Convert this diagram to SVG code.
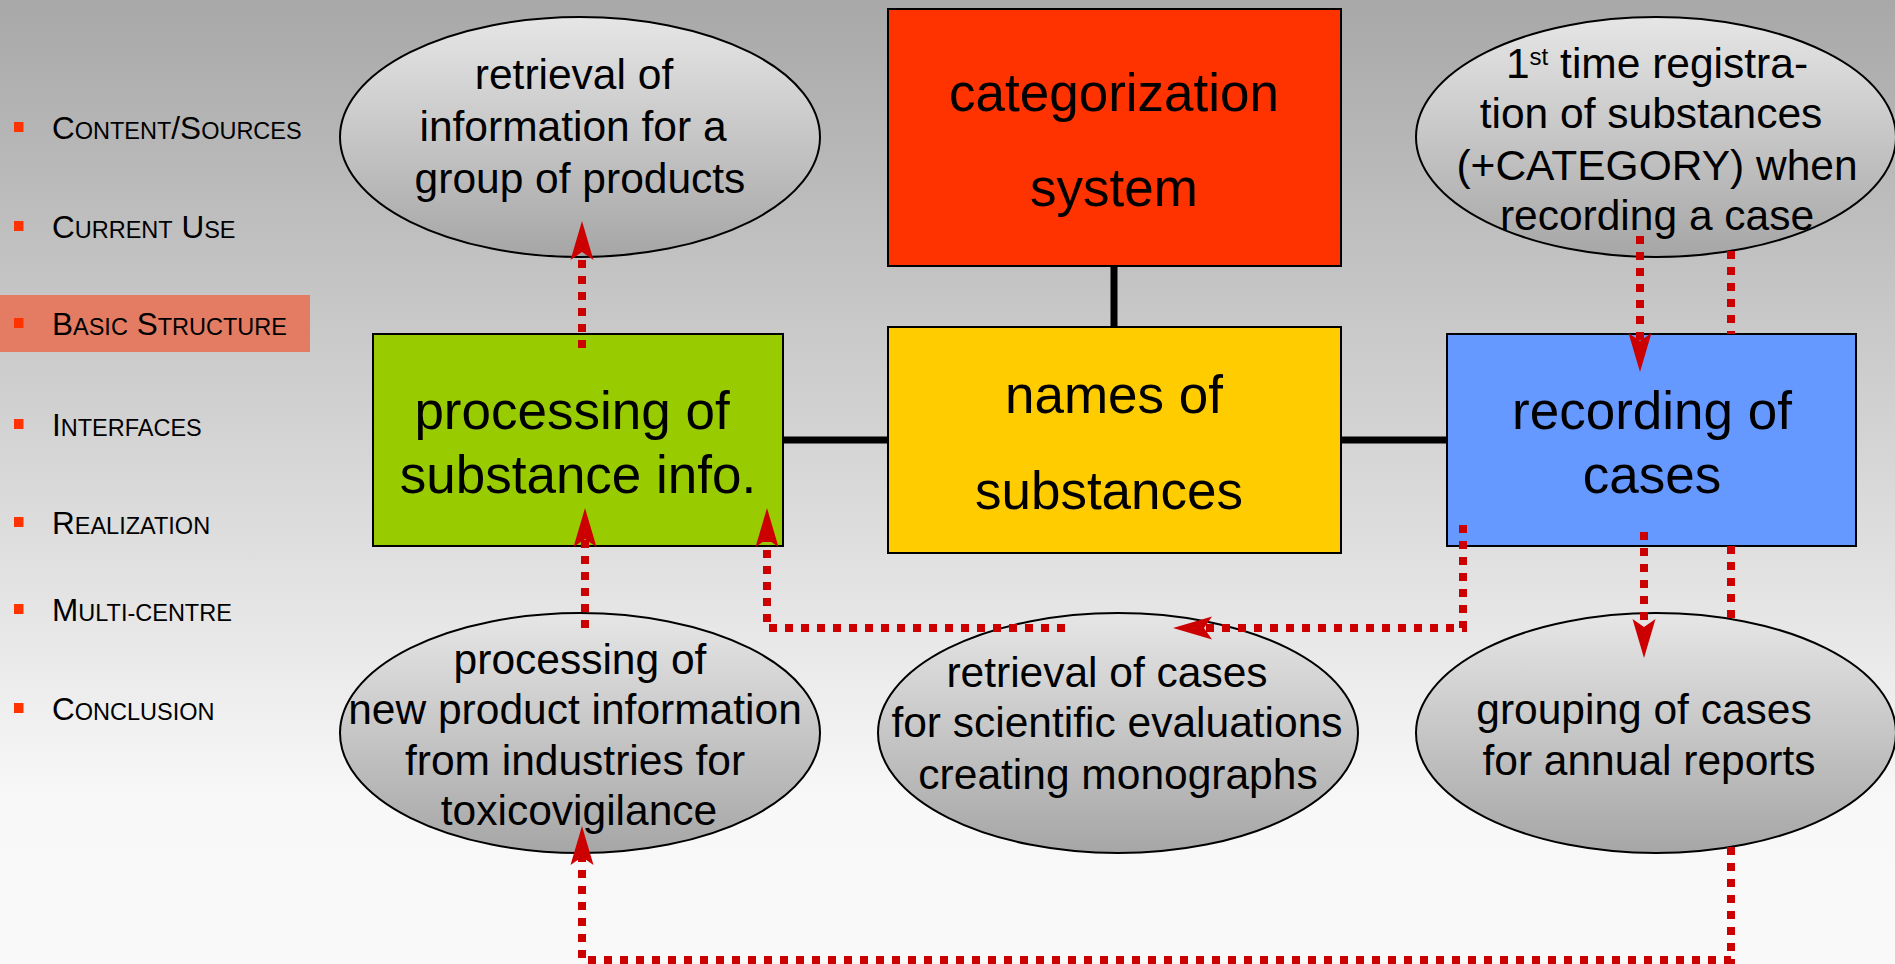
<svg xmlns="http://www.w3.org/2000/svg" width="1895" height="964" viewBox="0 0 1895 964">
  <defs>
    <linearGradient id="bg" x1="0" y1="0" x2="0" y2="1">
      <stop offset="0" stop-color="#a8a8a8"/>
      <stop offset="0.83" stop-color="#f8f8f8"/>
      <stop offset="1" stop-color="#f9f9f9"/>
    </linearGradient>
    <linearGradient id="ovalGrad" x1="0" y1="0" x2="0" y2="1">
      <stop offset="0" stop-color="#e6e6e6"/>
      <stop offset="1" stop-color="#a6a6a6"/>
    </linearGradient>
    <marker id="arr" markerUnits="userSpaceOnUse" orient="auto" overflow="visible" markerWidth="1" markerHeight="1" refX="0" refY="0">
      <path d="M31,0 L-8,-11.5 L0,0 L-8,11.5 Z" fill="#cc0000"/>
    </marker>
    <style>
      text { font-family: "Liberation Sans", Arial, sans-serif; fill: #000; }
      .nav { font-size: 31.5px; }
      .sc { font-size: 23.5px; }
      .bullet { fill: #ff3300; }
      .box { stroke: #000; stroke-width: 2; }
      .oval { fill: url(#ovalGrad); stroke: #000; stroke-width: 2; }
      .big { font-size: 53px; text-anchor: middle; }
      .mid { font-size: 42.5px; text-anchor: middle; }
      .bar { stroke: #000; stroke-width: 7; fill: none; }
      .link { fill: none; stroke: #cc0000; stroke-width: 8; stroke-dasharray: 8 8; marker-end: url(#arr); }
    </style>
  </defs>

  <rect x="0" y="0" width="1895" height="964" fill="url(#bg)"/>

  <!-- side navigation -->
  <g id="nav">
    <rect x="0" y="295" width="310" height="57" fill="#e47c64"/>
    <g id="nav-content">
      <rect class="bullet" x="14" y="122" width="9.5" height="10"/>
      <text class="nav" x="52" y="139">C<tspan class="sc">ONTENT</tspan>/S<tspan class="sc">OURCES</tspan></text>
    </g>
    <g id="nav-use">
      <rect class="bullet" x="14" y="221" width="9.5" height="10"/>
      <text class="nav" x="52" y="238">C<tspan class="sc">URRENT</tspan> U<tspan class="sc">SE</tspan></text>
    </g>
    <g id="nav-structure">
      <rect class="bullet" x="14" y="318" width="9.5" height="10"/>
      <text class="nav" x="52" y="335">B<tspan class="sc">ASIC</tspan> S<tspan class="sc">TRUCTURE</tspan></text>
    </g>
    <g id="nav-interfaces">
      <rect class="bullet" x="14" y="419" width="9.5" height="10"/>
      <text class="nav" x="52" y="436">I<tspan class="sc">NTERFACES</tspan></text>
    </g>
    <g id="nav-realization">
      <rect class="bullet" x="14" y="517" width="9.5" height="10"/>
      <text class="nav" x="52" y="534">R<tspan class="sc">EALIZATION</tspan></text>
    </g>
    <g id="nav-multi">
      <rect class="bullet" x="14" y="604" width="9.5" height="10"/>
      <text class="nav" x="52" y="621">M<tspan class="sc">ULTI-CENTRE</tspan></text>
    </g>
    <g id="nav-conclusion">
      <rect class="bullet" x="14" y="703" width="9.5" height="10"/>
      <text class="nav" x="52" y="720">C<tspan class="sc">ONCLUSION</tspan></text>
    </g>
  </g>

  <!-- solid structural links -->
  <g id="structure-links">
    <path class="bar" d="M1114,266 V327"/>
    <path class="bar" d="M783,440 H888"/>
    <path class="bar" d="M1341,440 H1447"/>
  </g>

  <g id="categorization">
    <rect class="box" x="888" y="9" width="453" height="257" fill="#ff3300"/>
    <text class="big" x="1114" y="111">categorization</text>
    <text class="big" x="1114" y="206">system</text>
  </g>

  <g id="names">
    <rect class="box" x="888" y="327" width="453" height="226" fill="#ffcc00"/>
    <text class="big" x="1114" y="413">names of</text>
    <text class="big" x="1109" y="509">substances</text>
  </g>

  <g id="processing">
    <rect class="box" x="373" y="334" width="410" height="212" fill="#99cc00"/>
    <text class="big" x="572" y="429">processing of</text>
    <text class="big" x="578" y="493">substance info.</text>
  </g>

  <g id="recording">
    <rect class="box" x="1447" y="334" width="409" height="212" fill="#6699ff"/>
    <text class="big" x="1652" y="429">recording of</text>
    <text class="big" x="1652" y="493">cases</text>
  </g>

  <g id="retrieval-products">
    <ellipse class="oval" cx="580" cy="137" rx="240" ry="120"/>
    <text class="mid" x="574" y="89">retrieval of</text>
    <text class="mid" x="573" y="141">information for a</text>
    <text class="mid" x="580" y="193">group of products</text>
  </g>

  <g id="registration">
    <ellipse class="oval" cx="1656" cy="137" rx="240" ry="120"/>
    <text class="mid" x="1657" y="78">1<tspan font-size="24" dy="-13">st</tspan><tspan dy="13"> time registra-</tspan></text>
    <text class="mid" x="1651" y="128">tion of substances</text>
    <text class="mid" x="1657" y="180">(+CATEGORY) when</text>
    <text class="mid" x="1657" y="230">recording a case</text>
  </g>

  <g id="new-product-info">
    <ellipse class="oval" cx="580" cy="733" rx="240" ry="120"/>
    <text class="mid" x="580" y="674">processing of</text>
    <text class="mid" x="575" y="724">new product information</text>
    <text class="mid" x="575" y="775">from industries for</text>
    <text class="mid" x="579" y="825">toxicovigilance</text>
  </g>

  <g id="retrieval-cases">
    <ellipse class="oval" cx="1118" cy="733" rx="240" ry="120"/>
    <text class="mid" x="1107" y="687">retrieval of cases</text>
    <text class="mid" x="1117" y="737">for scientific evaluations</text>
    <text class="mid" x="1118" y="789">creating monographs</text>
  </g>

  <g id="grouping">
    <ellipse class="oval" cx="1656" cy="733" rx="240" ry="120"/>
    <text class="mid" x="1644" y="724">grouping of cases</text>
    <text class="mid" x="1649" y="775">for annual reports</text>
  </g>

  <!-- dotted data-flow connectors -->
  <g id="connectors">
    <path class="link" d="M582,348 V252"/>
    <path class="link" d="M585,628 V539"/>
    <path class="link" d="M1065,628 H767 V539"/>
    <path class="link" d="M1463,525 V628 H1204"/>
    <path class="link" d="M1640,236 V341"/>
    <path class="link" d="M1644,532 V627"/>
    <path class="link" d="M1731,251 V334 M1731,546 V619 M1731,847 V960 H582 V857"/>
  </g>
</svg>
